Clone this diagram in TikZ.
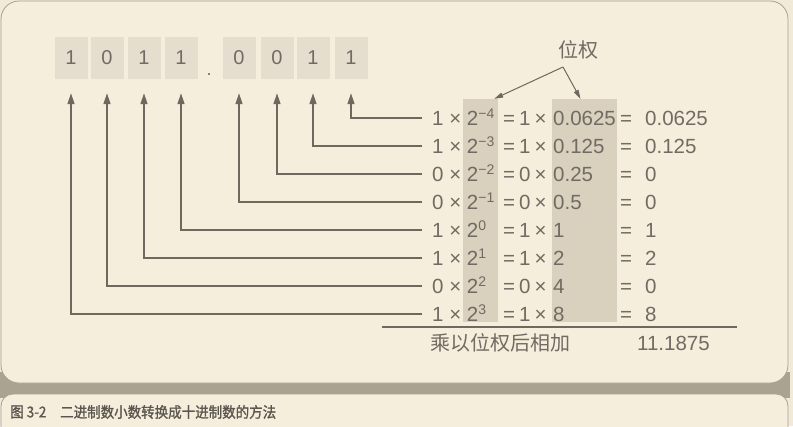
\documentclass[tikz,border=0pt]{standalone}
\usepackage{fontspec}
\setmainfont{Liberation Sans}
\newfontfamily\cjk{Noto Sans CJK SC}
\newfontfamily\cjkcap[FakeStretch=0.9,FakeBold=1.2]{Noto Sans CJK SC}
\usetikzlibrary{arrows.meta}
\definecolor{bgc}{HTML}{F5EEDC}
\definecolor{bgout}{HTML}{F1EAD8}
\definecolor{bandc}{HTML}{ABA392}
\definecolor{framec}{HTML}{A8A195}
\definecolor{boxc}{HTML}{E5DECE}
\definecolor{shadec}{HTML}{D9D0BD}
\definecolor{inkc}{HTML}{716B63}
\definecolor{linec}{HTML}{6F685E}
\newcommand\supx[1]{\raisebox{7pt}{\fontsize{14}{14}\selectfont #1}}
\tikzset{
  txt/.style={text=inkc, font=\fontsize{20.5}{22}\selectfont, inner sep=0pt, anchor=base west},
  eqa/.style={txt, inner xsep=10pt},
  digitbox/.style={fill=boxc, minimum width=33pt, minimum height=42pt, inner sep=0pt,
     text=inkc, font=\fontsize{20}{22}\selectfont},
  conn/.style={draw=linec, line width=1.2pt, -{Triangle[length=11pt,width=7pt]}},
  frame/.style={draw=framec, line width=0.8pt, fill=bgc},
  shadecol/.style={fill=shadec, inner sep=0pt, draw=none},
  cjklabel/.style={text=inkc, font=\cjk\fontsize{20}{22}\selectfont, inner sep=0pt},
  captxt/.style={text=inkc!80!black, font=\cjkcap\fontsize{15}{16}\selectfont, inner sep=0pt, anchor=west}
}
\begin{document}
\begin{tikzpicture}[x=1pt,y=-1pt]
\useasboundingbox (0,0) rectangle (793,426);
\fill[bgout] (0,0) rectangle (793,426);
\fill[bandc] (0,372) rectangle (790,398);
% main panel
\draw[frame, rounded corners=18pt] (1,1) rectangle (788,383);
% caption panel
\draw[frame, rounded corners=12pt] (1,394) rectangle (788,450);
% shaded columns
\node[shadecol, minimum width=35pt, minimum height=223pt] (colA) at (480.5,210.5) {};
\node[shadecol, minimum width=65pt, minimum height=223pt] (colB) at (584.5,210.5) {};
% digit boxes
\foreach \k/\x/\t in {1/71/1,2/107/0,3/144/1,4/181/1,5/239/0,6/277/0,7/313/1,8/351/1}{
  \node[digitbox] (d\k) at (\x,58) {\raisebox{-4pt}{\t}};
}
\node[text=inkc, inner sep=0pt, font=\fontsize{18}{20}\selectfont] (pt) at (209,75) {.};
% rows
\foreach \i/\a/\p/\n/\v/\d in {1/1/−4/0.0625/0.0625/8, 2/1/−3/0.125/0.125/7, 3/0/−2/0.25/0/6,
  4/0/−1/0.5/0/5, 5/1/0/1/1/4, 6/1/1/2/2/3, 7/0/2/4/0/2, 8/1/3/8/8/1}{
  \node[eqa] (a\i) at (422,97.3+28*\i) {\a{} × 2\supx{\p}};
  \node[txt] (b\i) at (503,97.3+28*\i) {=\hspace{4pt}\a\hspace{4pt}×};
  \node[txt] (c\i) at (553,97.3+28*\i) {\n};
  \node[txt] (e\i) at (620,97.3+28*\i) {\makebox[25pt][l]{=}\v};
  \draw[conn] ([yshift=7.3pt]a\i.base west) -| ([yshift=-14pt]d\d.south);
}
% sum line
\coordinate (sl) at (382,327);
\coordinate (sr) at (737,327);
\draw[draw=linec, line width=1.2pt] (sl) -- (sr);
\node[cjklabel, anchor=west] (sumlab) at (430,343) {乘以位权后相加};
\node[txt] (sumval) at (637,350.5) {11.1875};
% position weight label
\node[cjklabel] (wlab) at (578,50) {位权};
\coordinate (apex) at (563,67);
\draw[draw=linec, line width=1pt, -{Triangle[length=9pt,width=5pt]}] (apex) -- ([xshift=-4pt]colA.north east);
\draw[draw=linec, line width=1pt, -{Triangle[length=9pt,width=5pt]}] (apex) -- ([xshift=-4pt]colB.north);
% caption
\node[captxt] (cap1) at (10,412) {图 3-2};
\node[captxt] (cap2) at (60,412) {二进制数小数转换成十进制数的方法};
\end{tikzpicture}
\end{document}
